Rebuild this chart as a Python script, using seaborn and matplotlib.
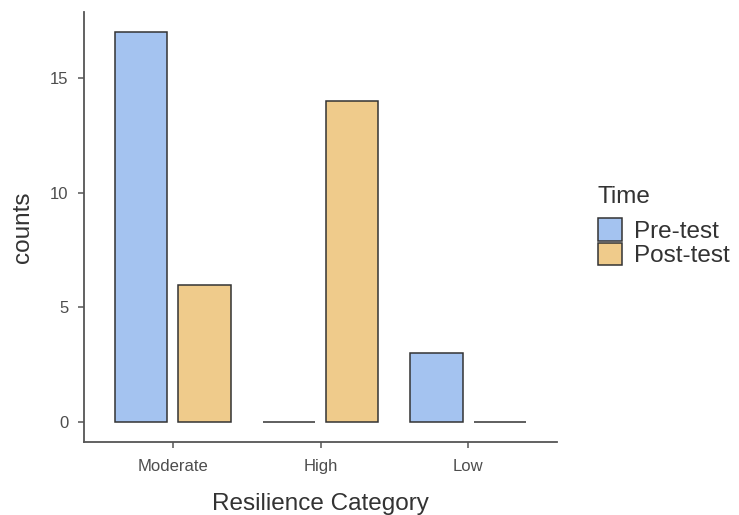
import pandas as pd
import matplotlib
matplotlib.use('Agg')
import matplotlib.pyplot as plt
import seaborn as sns
from matplotlib.patches import Patch

# Data
categories = ['Moderate', 'High', 'Low']
times = ['Pre-test', 'Post-test']
pre_counts = [17, 0, 3]
post_counts = [6, 14, 0]

df = pd.DataFrame({
    'Resilience Category': categories * 2,
    'Time': [times[0]] * 3 + [times[1]] * 3,
    'counts': pre_counts + post_counts,
})

colors = {'Pre-test': '#A4C3F0', 'Post-test': '#EFCB8B'}
edge = '#333333'
text_grey = '#4D4D4D'

sns.set_style('white')
plt.rcParams['font.family'] = ['Liberation Sans', 'DejaVu Sans']

fig = plt.figure(figsize=(7.39, 5.15), dpi=100)
ax = fig.add_axes([0.1137, 0.1417, 0.64, 0.835])

sns.barplot(data=df, x='Resilience Category', y='counts', hue='Time',
            order=categories, hue_order=times, palette=colors, saturation=1,
            width=0.86, gap=0.18, edgecolor=edge, linewidth=1.1,
            legend=False, ax=ax)

ax.set_xlim(-0.6, 2.6)
ax.set_ylim(-0.85, 17.85)
ax.set_yticks([0, 5, 10, 15])

for side in ['top', 'right']:
    ax.spines[side].set_visible(False)
for side in ['left', 'bottom']:
    ax.spines[side].set_color('#555555')
    ax.spines[side].set_linewidth(1.3)

ax.tick_params(axis='both', which='major', length=4, width=1.1,
               color='#555555', labelcolor=text_grey, labelsize=12,
               left=True, bottom=True)
ax.tick_params(axis='y', pad=7)
ax.tick_params(axis='x', pad=8)
ax.set_xlabel('Resilience Category', fontsize=17.5, color='#333333', labelpad=14)
ax.set_ylabel('counts', fontsize=17.5, color='#333333', labelpad=12)

# legend: title as its own text, keys stacked below it
fig.text(597 / 739, 1 - 203 / 515, 'Time', fontsize=17.5, color='#333333',
         ha='left', va='baseline')
handles = [Patch(facecolor=colors[t], edgecolor=edge, linewidth=1.1) for t in times]
leg = fig.legend(handles, times, loc='upper left',
                 bbox_to_anchor=(598 / 739, 1 - 218 / 515), frameon=False,
                 borderpad=0, borderaxespad=0, fontsize=17.5,
                 handlelength=1.0, handleheight=1.05, labelspacing=0.0,
                 handletextpad=0.5)
for t in leg.get_texts():
    t.set_color('#333333')

fig.savefig('out.png', dpi=100)
